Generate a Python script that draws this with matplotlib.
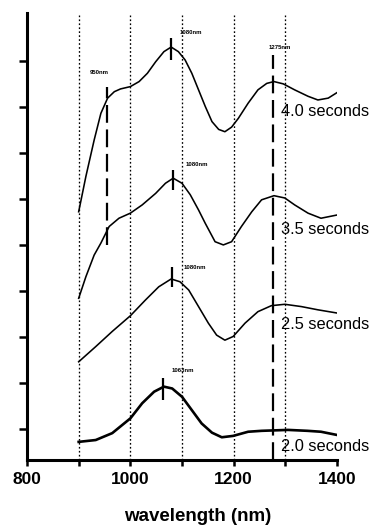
import matplotlib
matplotlib.use("Agg")
import matplotlib.pyplot as plt
import numpy as np

plt.rcParams['font.family'] = ['Liberation Sans', 'DejaVu Sans']

# ---- data ----
wl_40 = [900, 914, 930, 943, 956, 969, 981, 1000, 1017, 1033, 1049, 1065, 1079, 1093, 1106, 1119,
         1132, 1145, 1158, 1171, 1183, 1196, 1209, 1228, 1247, 1264, 1278, 1296, 1318, 1344, 1363,
         1383, 1400]
s_40 = [4.72, 5.49, 6.28, 6.86, 7.19, 7.33, 7.39, 7.44, 7.55, 7.73, 7.98, 8.20, 8.30, 8.20, 8.02, 7.73,
        7.37, 7.01, 6.68, 6.51, 6.46, 6.56, 6.75, 7.08, 7.37, 7.51, 7.55, 7.50, 7.37, 7.23, 7.15,
        7.19, 7.31]

wl_35 = [900, 914, 930, 943, 959, 978, 1000, 1023, 1049, 1068, 1083, 1100, 1116, 1132, 1145, 1164,
         1180, 1196, 1215, 1235, 1254, 1278, 1299, 1318, 1344, 1369, 1400]
s_35 = [2.84, 3.31, 3.78, 4.04, 4.40, 4.58, 4.69, 4.87, 5.12, 5.34, 5.45, 5.34, 5.09, 4.76, 4.47, 4.07,
        4.00, 4.07, 4.40, 4.72, 4.98, 5.07, 5.02, 4.87, 4.69, 4.58, 4.65]

wl_25 = [900, 933, 965, 1000, 1029, 1055, 1079, 1096, 1113, 1132, 1151, 1167, 1183, 1199, 1222,
         1247, 1273, 1299, 1331, 1363, 1400]
s_25 = [1.46, 1.79, 2.12, 2.46, 2.80, 3.09, 3.26, 3.20, 3.02, 2.66, 2.30, 2.04, 1.93, 2.01, 2.30,
        2.55, 2.68, 2.71, 2.66, 2.59, 2.52]

wl_20 = [900, 933, 965, 1000, 1023, 1046, 1065, 1081, 1100, 1119, 1138, 1158, 1177, 1199, 1228,
         1254, 1305, 1343, 1369, 1400]
s_20 = [-0.28, -0.24, -0.09, 0.23, 0.56, 0.81, 0.92, 0.88, 0.70, 0.41, 0.12, -0.08, -0.18, -0.15, -0.06,
        -0.04, -0.02, -0.04, -0.06, -0.13]

series_labels = ["4.0 seconds", "3.5 seconds", "2.5 seconds", "2.0 seconds"]
series_label_y = [6.90, 4.33, 2.26, -0.39]

peak_wl = [1079, 1083, 1081, 1064]
peak_lo = [8.02, 5.20, 3.09, 0.63]
peak_hi = [8.50, 5.63, 3.52, 1.11]

ann_text = ["950nm", "1080nm", "1275nm", "1080nm", "1080nm", "1063nm"]
ann_x = [939, 1117, 1290, 1129, 1125, 1102]
ann_y = [7.74, 8.61, 8.30, 5.74, 3.50, 1.28]

grid_wl = [900, 1000, 1100, 1200, 1300]
dash_wl = [954, 1276]
dash_top = [7.43, 8.13]
dash_bot = [4.00, -0.674]

xticks_major = [800, 1000, 1200, 1400]
xticks_minor = [900, 1100, 1300]

# ---- figure ----
W, H = 371, 527
fig = plt.figure(figsize=(W / 100, H / 100), dpi=100)
ax = fig.add_axes([27 / W, (H - 460) / H, 310 / W, (460 - 13) / H])
ax.set_xlim(800, 1400)
ax.set_ylim(-0.674, 9.04)

for g in grid_wl:
    ax.plot([g, g], [-0.674, 9.0], color='black', lw=0.95, ls=(0, (1.3, 1.7)), zorder=1)

ax.plot(wl_40, s_40, color='black', lw=1.15, zorder=3, solid_joinstyle='round')
ax.plot(wl_35, s_35, color='black', lw=1.15, zorder=3, solid_joinstyle='round')
ax.plot(wl_25, s_25, color='black', lw=1.15, zorder=3, solid_joinstyle='round')
ax.plot(wl_20, s_20, color='black', lw=1.9, zorder=3, solid_joinstyle='round')

for x, lo, hi in zip(dash_wl, dash_bot, dash_top):
    ax.plot([x, x], [lo, hi], color='black', lw=1.6, ls=(0, (8, 3)), zorder=2, clip_on=False)

ax.vlines(peak_wl, peak_lo, peak_hi, color='black', lw=1.6, zorder=4)

for t, x, y in zip(ann_text, ann_x, ann_y):
    ax.text(x, y, t, fontsize=4.3, fontweight='bold', ha='center', va='center')

for t, y in zip(series_labels, series_label_y):
    ax.text(1291, y, t, fontsize=11.8, ha='left', va='center', clip_on=False)

for s in ['top', 'right']:
    ax.spines[s].set_visible(False)
ax.spines['left'].set_linewidth(2.2)
ax.spines['bottom'].set_linewidth(2.2)

ax.set_yticks(np.arange(0, 9))
ax.set_yticklabels([])
ax.tick_params(axis='y', direction='out', length=6, width=1.8)

ax.set_xticks(xticks_major)
ax.set_xticks(xticks_minor, minor=True)
ax.set_xticklabels([str(v) for v in xticks_major], fontsize=12.5, fontweight='bold')
ax.tick_params(axis='x', which='major', direction='out', length=4, width=1.8, pad=5)
ax.tick_params(axis='x', which='minor', direction='out', length=4, width=1.8)

ax.set_xlabel("wavelength (nm)", fontsize=13.5, fontweight='bold')
ax.xaxis.label.set_va('center')
ax.xaxis.set_label_coords(0.55, -0.127)

fig.savefig("out.png", dpi=100)
